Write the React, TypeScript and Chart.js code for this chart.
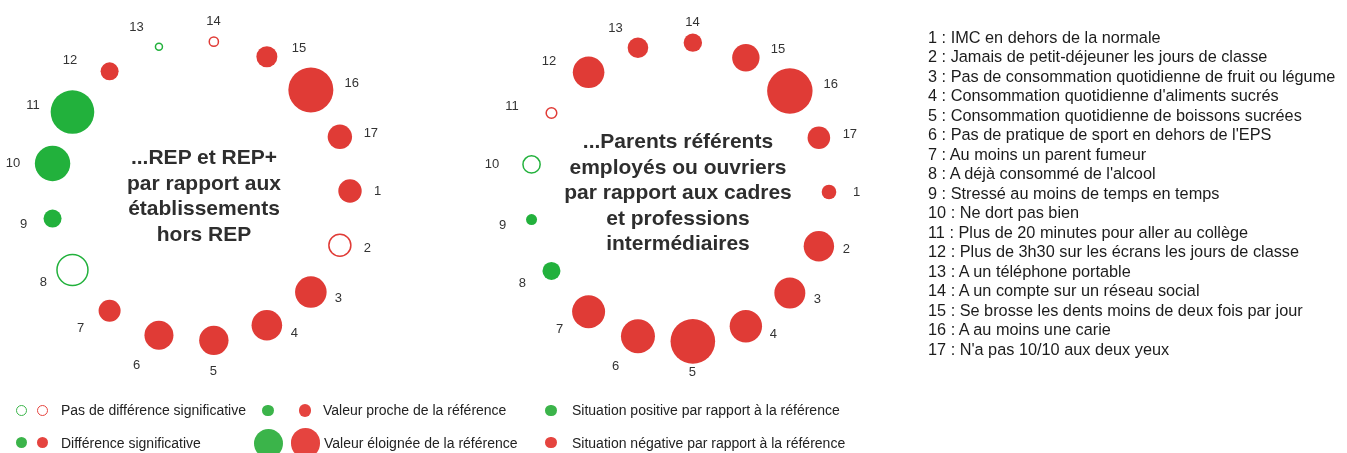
import React, { useEffect, useRef } from "react";
import { Chart, registerables } from "chart.js";

Chart.register(...registerables);

// ---------- data ----------
const indicators = [
  "IMC en dehors de la normale",
  "Jamais de petit-déjeuner les jours de classe",
  "Pas de consommation quotidienne de fruit ou légume",
  "Consommation quotidienne d'aliments sucrés",
  "Consommation quotidienne de boissons sucrées",
  "Pas de pratique de sport en dehors de l'EPS",
  "Au moins un parent fumeur",
  "A déjà consommé de l'alcool",
  "Stressé au moins de temps en temps",
  "Ne dort pas bien",
  "Plus de 20 minutes pour aller au collège",
  "Plus de 3h30 sur les écrans les jours de classe",
  "A un téléphone portable",
  "A un compte sur un réseau social",
  "Se brosse les dents moins de deux fois par jour",
  "A au moins une carie",
  "N'a pas 10/10 aux deux yeux",
];

const repTitle = ["...REP et REP+", "par rapport aux", "établissements", "hors REP"];
const repSizes = [11.7, 11, 15.8, 15.3, 14.7, 14.5, 11, 15.5, 9, 17.7, 21.8, 9, 3.5, 4.6, 10.5, 22.5, 12.2];
const repSignificant = [1, 0, 1, 1, 1, 1, 1, 0, 1, 1, 1, 1, 0, 0, 1, 1, 1];
const repPositive = [0, 0, 0, 0, 0, 0, 0, 1, 1, 1, 1, 0, 1, 0, 0, 0, 0];

const pcsTitle = ["...Parents référents", "employés ou ouvriers", "par rapport aux cadres", "et professions", "intermédiaires"];
const pcsSizes = [7.3, 15.2, 15.5, 16.2, 22.3, 17, 16.5, 9, 5.5, 8.6, 5.3, 15.8, 10.3, 9.2, 13.7, 22.7, 11.3];
const pcsSignificant = [1, 1, 1, 1, 1, 1, 1, 1, 1, 0, 0, 1, 1, 1, 1, 1, 1];
const pcsPositive = [0, 0, 0, 0, 0, 0, 0, 1, 1, 1, 0, 0, 0, 0, 0, 0, 0];

const legendRow1 = ["Pas de différence significative", "Valeur proche de la référence", "Situation positive par rapport à la référence"];
const legendRow2 = ["Différence significative", "Valeur éloignée de la référence", "Situation négative par rapport à la référence"];

// ---------- layout / style ----------
const W = 1347;
const H = 453;
const RING_R = 150;
const RED = "#E03B36";
const GREEN = "#22B13C";
const L_RED = "#E5443F";
const L_GREEN = "#3BB44A";
const FONT = '"Liberation Sans", Arial, Helvetica, sans-serif';

const rings = [
  { cx: 200, cy: 191, sizes: repSizes, sig: repSignificant, pos: repPositive },
  { cx: 679, cy: 192, sizes: pcsSizes, sig: pcsSignificant, pos: pcsPositive },
];

const deg = Math.PI / 180;
function angleOf(i: number) {
  return (90 + (i * 360) / 17) % 360;
}
function ringPoint(cx: number, cy: number, i: number) {
  const a = angleOf(i) * deg;
  return { x: cx + RING_R * Math.sin(a), y: cy - RING_R * Math.cos(a) };
}
// label placed beside its ring slot (right / left / above / below)
function labelPoint(cx: number, cy: number, i: number) {
  const a = angleOf(i) * deg;
  const s = Math.sin(a);
  const c = Math.cos(a);
  const p = ringPoint(cx, cy, i);
  const two = i + 1 >= 10;
  let dx: number;
  let dy: number;
  if (Math.abs(s) >= 0.4) {
    if (s > 0) {
      dx = two ? 31 + 10 * Math.max(0, 1 - Math.abs(Math.abs(c) - 0.674) * 4) : 27.6;
      dy = -9 * c;
    } else {
      dx = two ? -39.5 : -29;
      dy = -18 * c + 3;
    }
  } else {
    dx = 60 * s - 6;
    dy = -c * (c > 0 ? 20 : 31);
  }
  return { x: p.x + dx, y: p.y + dy };
}

const labelPlugin = {
  id: "ringLabels",
  afterDatasetsDraw(chart: any) {
    const { ctx, scales } = chart;
    ctx.save();
    ctx.font = `13px ${FONT}`;
    ctx.fillStyle = "#333333";
    ctx.textAlign = "center";
    ctx.textBaseline = "middle";
    rings.forEach((ring) => {
      ring.sizes.forEach((_, i) => {
        const p = labelPoint(ring.cx, ring.cy, i);
        ctx.fillText(String(i + 1), scales.x.getPixelForValue(p.x), scales.y.getPixelForValue(p.y));
      });
    });
    ctx.restore();
  },
};

function Dot({ cx, cy, r, color, hollow }: { cx: number; cy: number; r: number; color: string; hollow?: boolean }) {
  return (
    <div
      style={{
        position: "absolute",
        left: cx - r,
        top: cy - r,
        width: r * 2,
        height: r * 2,
        boxSizing: "border-box",
        borderRadius: "50%",
        background: hollow ? "transparent" : color,
        border: hollow ? `1.5px solid ${color}` : "none",
      }}
    />
  );
}

export default function App() {
  const canvasRef = useRef<HTMLCanvasElement | null>(null);

  useEffect(() => {
    document.body.style.margin = "0";
    const canvas = canvasRef.current;
    if (!canvas) return;
    const datasets = rings.map((ring) => ({
      data: ring.sizes.map((r, i) => ({ ...ringPoint(ring.cx, ring.cy, i), r })),
      backgroundColor: ring.sizes.map((_, i) =>
        ring.sig[i] ? (ring.pos[i] ? GREEN : RED) : "rgba(255,255,255,0)"
      ),
      borderColor: ring.sizes.map((_, i) => (ring.pos[i] ? GREEN : RED)),
      borderWidth: ring.sizes.map((_, i) => (ring.sig[i] ? 0 : 1.5)),
      clip: false as any,
    }));
    const chart = new Chart(canvas, {
      type: "bubble",
      data: { datasets },
      options: {
        animation: false,
        responsive: false,
        devicePixelRatio: 1,
        events: [],
        layout: { padding: 0, autoPadding: false },
        plugins: { legend: { display: false }, tooltip: { enabled: false } },
        scales: {
          x: { type: "linear", min: 0, max: W, display: false },
          y: { type: "linear", min: 0, max: H, reverse: true, display: false },
        },
      },
      plugins: [labelPlugin],
    });
    return () => chart.destroy();
  }, []);

  const titleStyle: React.CSSProperties = {
    position: "absolute",
    width: 320,
    textAlign: "center",
    fontFamily: FONT,
    fontWeight: "bold",
    fontSize: 21,
    lineHeight: "25.5px",
    color: "#2e2e2e",
    whiteSpace: "nowrap",
  };
  const legendText: React.CSSProperties = {
    position: "absolute",
    fontFamily: FONT,
    fontSize: 14,
    lineHeight: "16px",
    color: "#222",
    whiteSpace: "nowrap",
  };

  return (
    <div style={{ position: "relative", width: W, height: H, overflow: "hidden", background: "#fff" }}>
      <canvas ref={canvasRef} width={W} height={H} style={{ position: "absolute", left: 0, top: 0, width: W, height: H }} />
      <div style={{ ...titleStyle, left: 204 - 160, top: 144 }}>
        {repTitle.map((t) => (
          <div key={t}>{t}</div>
        ))}
      </div>
      <div style={{ ...titleStyle, left: 678 - 160, top: 128 }}>
        {pcsTitle.map((t) => (
          <div key={t}>{t}</div>
        ))}
      </div>
      <div
        style={{
          position: "absolute",
          left: 928,
          top: 27.5,
          fontFamily: FONT,
          fontSize: 16.3,
          lineHeight: "19.5px",
          color: "#1c1c1c",
          whiteSpace: "nowrap",
        }}
      >
        {indicators.map((t, i) => (
          <div key={i}>{`${i + 1} : ${t}`}</div>
        ))}
      </div>
      {/* legend */}
      <Dot cx={21.7} cy={410.5} r={5.5} color={L_GREEN} hollow />
      <Dot cx={42.3} cy={410.5} r={5.5} color={L_RED} hollow />
      <Dot cx={21.7} cy={442.5} r={5.8} color={L_GREEN} />
      <Dot cx={42.5} cy={442.5} r={5.8} color={L_RED} />
      <Dot cx={267.7} cy={410.5} r={5.9} color={L_GREEN} />
      <Dot cx={305} cy={410.5} r={6.3} color={L_RED} />
      <Dot cx={268.6} cy={443} r={14.5} color={L_GREEN} />
      <Dot cx={305.3} cy={443} r={14.8} color={L_RED} />
      <Dot cx={550.8} cy={410.5} r={5.8} color={L_GREEN} />
      <Dot cx={550.8} cy={442.5} r={5.8} color={L_RED} />
      <div style={{ ...legendText, left: 61, top: 402 }}>{legendRow1[0]}</div>
      <div style={{ ...legendText, left: 323, top: 402 }}>{legendRow1[1]}</div>
      <div style={{ ...legendText, left: 572, top: 402 }}>{legendRow1[2]}</div>
      <div style={{ ...legendText, left: 61, top: 434.5 }}>{legendRow2[0]}</div>
      <div style={{ ...legendText, left: 324, top: 434.5 }}>{legendRow2[1]}</div>
      <div style={{ ...legendText, left: 572, top: 434.5 }}>{legendRow2[2]}</div>
    </div>
  );
}
